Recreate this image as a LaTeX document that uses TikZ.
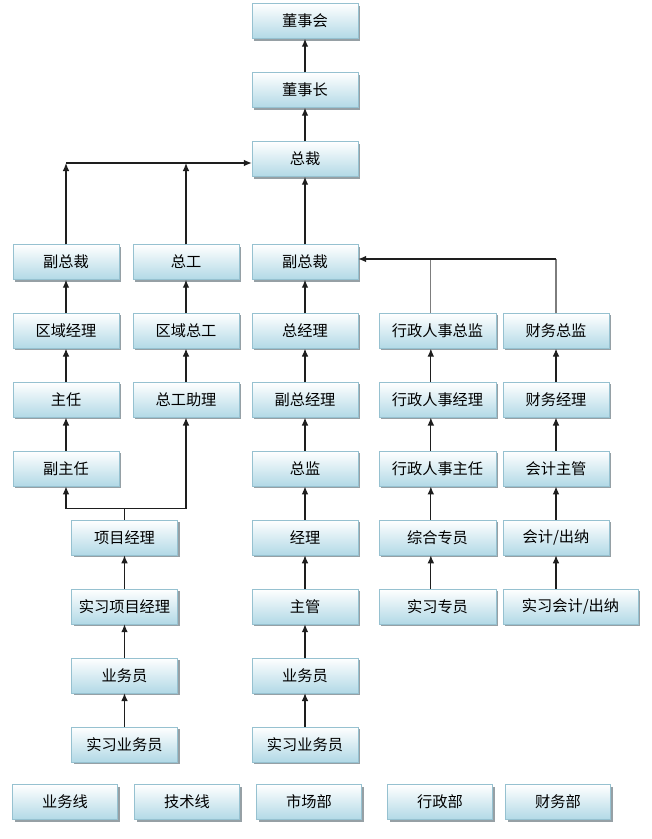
\documentclass[tikz,border=0pt]{standalone}
\usepackage{fontspec}
\newfontfamily\cjk{Noto Sans CJK SC}
\usepackage{tikz}
\usetikzlibrary{arrows.meta,shapes,shadows}

\begin{document}
\begin{tikzpicture}[node distance = 2.067cm, >={Latex[length=2.4mm,width=2mm]}]
    \definecolor{boxblue}{RGB}{178,217,230}
    \definecolor{boxline}{RGB}{150,193,208}
    \definecolor{boxshadow}{RGB}{150,160,165}
    \definecolor{linedark}{RGB}{30,30,30}
    \definecolor{linegray}{RGB}{125,125,125}

    % 方框：上白下蓝的渐变，右下带阴影
    \tikzstyle{format}=[rectangle,draw=boxline,thin,top color=white,bottom color=boxblue,
        minimum width=3.18cm,minimum height=1.05cm,inner sep=0pt,
        font=\cjk\fontsize{13pt}{15pt}\selectfont,
        drop shadow={shadow xshift=0.06cm,shadow yshift=-0.06cm,fill=boxshadow,opacity=1}]
    \tikzstyle{wide}=[minimum width=3.51cm]  % 行政一列稍宽
    \tikzstyle{link}=[draw=linedark,line width=1pt]

    \useasboundingbox (0,0) rectangle (19.53,-25.17);

    % 中间一列（市场部）
    \node[format](dongshihui) at (9.15,-0.63){董事会};
    \node[format,below of=dongshihui,node distance=2.07cm](dongshizhang){董事长};
    \node[format,below of=dongshizhang,node distance=2.07cm](zongcai){总裁};
    \node[format,below of=zongcai,node distance=3.09cm](fuzongcai){副总裁};
    \node[format,below of=fuzongcai](zongjingli){总经理};
    \node[format,below of=zongjingli](fuzongjingli){副总经理};
    \node[format,below of=fuzongjingli](zongjian){总监};
    \node[format,below of=zongjian](jingli){经理};
    \node[format,below of=jingli](zhuguan){主管};
    \node[format,below of=zhuguan](yewuyuan){业务员};
    \node[format,below of=yewuyuan](sxyewuyuan){实习业务员};

    % 业务线
    \node[format,left of=fuzongcai,node distance=7.17cm](fuzongcaiA){副总裁};
    \node[format,below of=fuzongcaiA](quyujingli){区域经理};
    \node[format,below of=quyujingli](zhuren){主任};
    \node[format,below of=zhuren](fuzhuren){副主任};

    % 技术线
    \node[format,left of=fuzongcai,node distance=3.57cm](zonggong){总工};
    \node[format,below of=zonggong](quyuzonggong){区域总工};
    \node[format,below of=quyuzonggong](zonggongzhuli){总工助理};

    % 项目一列
    \node[format,left of=jingli,node distance=5.415cm](xiangmujingli){项目经理};
    \node[format,below of=xiangmujingli](sxxiangmujingli){实习项目经理};
    \node[format,below of=sxxiangmujingli](yewuyuanA){业务员};
    \node[format,below of=yewuyuanA](sxyewuyuanA){实习业务员};

    % 行政部
    \node[format,wide,right of=zongjingli,node distance=3.975cm](xzrszongjian){行政人事总监};
    \node[format,wide,below of=xzrszongjian](xzrsjingli){行政人事经理};
    \node[format,wide,below of=xzrsjingli](xzrszhuren){行政人事主任};
    \node[format,wide,below of=xzrszhuren](zonghezhuanyuan){综合专员};
    \node[format,wide,below of=zonghezhuanyuan](sxzhuanyuan){实习专员};

    % 财务部
    \node[format,right of=zongjingli,node distance=7.53cm](caiwuzongjian){财务总监};
    \node[format,below of=caiwuzongjian](caiwujingli){财务经理};
    \node[format,below of=caiwujingli](kuaijizhuguan){会计主管};
    \node[format,below of=kuaijizhuguan](kuaijichuna){会计/出纳};
    \node[format,minimum width=4.05cm,right of=zhuguan,node distance=7.965cm](sxkuaijichuna){实习会计/出纳};

    % 最下一行
    \node[format,minimum width=3.15cm](yewuxian) at (1.95,-24.06){业务线};
    \node[format,minimum width=3.15cm,right of=yewuxian,node distance=3.66cm](jishuxian){技术线};
    \node[format,minimum width=3.15cm,right of=jishuxian,node distance=3.66cm](shichangbu){市场部};
    \node[format,minimum width=3.15cm,right of=shichangbu,node distance=3.93cm](xingzhengbu){行政部};
    \node[format,minimum width=3.15cm,right of=xingzhengbu,node distance=3.54cm](caiwubu){财务部};

    % 开始画线
    \draw[link,->](dongshizhang)--(dongshihui);
    \draw[link,->](zongcai)--(dongshizhang);
    \draw[link,->](fuzongcai)--(zongcai);
    \draw[link,->](zongjingli)--(fuzongcai);
    \draw[link,->](fuzongjingli)--(zongjingli);
    \draw[link,->](zongjian)--(fuzongjingli);
    \draw[link,->](jingli)--(zongjian);
    \draw[link,->](zhuguan)--(jingli);
    \draw[link,->](yewuyuan)--(zhuguan);
    \draw[link,->](sxyewuyuan)--(yewuyuan);

    \draw[link,->](quyujingli)--(fuzongcaiA);
    \draw[link,->](zhuren)--(quyujingli);
    \draw[link,->](fuzhuren)--(zhuren);
    \draw[link,->](quyuzonggong)--(zonggong);
    \draw[link,->](zonggongzhuli)--(quyuzonggong);

    \draw[link,->](sxxiangmujingli)--(xiangmujingli);
    \draw[link,->](yewuyuanA)--(sxxiangmujingli);
    \draw[link,->](sxyewuyuanA)--(yewuyuanA);

    % 副总裁、总工汇到总裁
    \coordinate(zcin) at ([yshift=-0.12cm]zongcai.west);
    \draw[link,->](fuzongcaiA.north)--(fuzongcaiA.north |- zcin);
    \draw[link,->](zonggong.north)--(zonggong.north |- zcin);
    \draw[link,->](fuzongcaiA.north |- zcin)--(zcin);

    % 项目经理分到副主任和总工助理
    \coordinate(xmup) at ([yshift=0.33cm]xiangmujingli.north);
    \draw[link](xiangmujingli.north)--(xmup);
    \draw[link,->](xmup)-|(fuzhuren.south);
    \draw[link,->](xmup)-|(zonggongzhuli.south);

    % 行政部（连线偏左）
    \draw[link,->]([xshift=-0.2cm]sxzhuanyuan.north)--([xshift=-0.2cm]zonghezhuanyuan.south);
    \draw[link,->]([xshift=-0.2cm]zonghezhuanyuan.north)--([xshift=-0.2cm]xzrszhuren.south);
    \draw[link,->]([xshift=-0.2cm]xzrszhuren.north)--([xshift=-0.2cm]xzrsjingli.south);
    \draw[link,->]([xshift=-0.2cm]xzrsjingli.north)--([xshift=-0.2cm]xzrszongjian.south);

    % 财务部
    \draw[link,->](sxkuaijichuna.north -| kuaijichuna.south)--(kuaijichuna.south);
    \draw[link,->](kuaijichuna)--(kuaijizhuguan);
    \draw[link,->](kuaijizhuguan)--(caiwujingli);
    \draw[link,->](caiwujingli)--(caiwuzongjian);

    % 行政、财务汇到副总裁
    \coordinate(fzin) at ([yshift=0.09cm]fuzongcai.east);
    \coordinate(xzup) at ([xshift=-0.2cm]xzrszongjian.north);
    \draw[link,draw=linegray](xzup)--(xzup |- fzin);
    \draw[link,draw=linegray](caiwuzongjian.north)--(caiwuzongjian.north |- fzin);
    \draw[link,->](caiwuzongjian.north |- fzin)--(fzin);
\end{tikzpicture}
\end{document}
